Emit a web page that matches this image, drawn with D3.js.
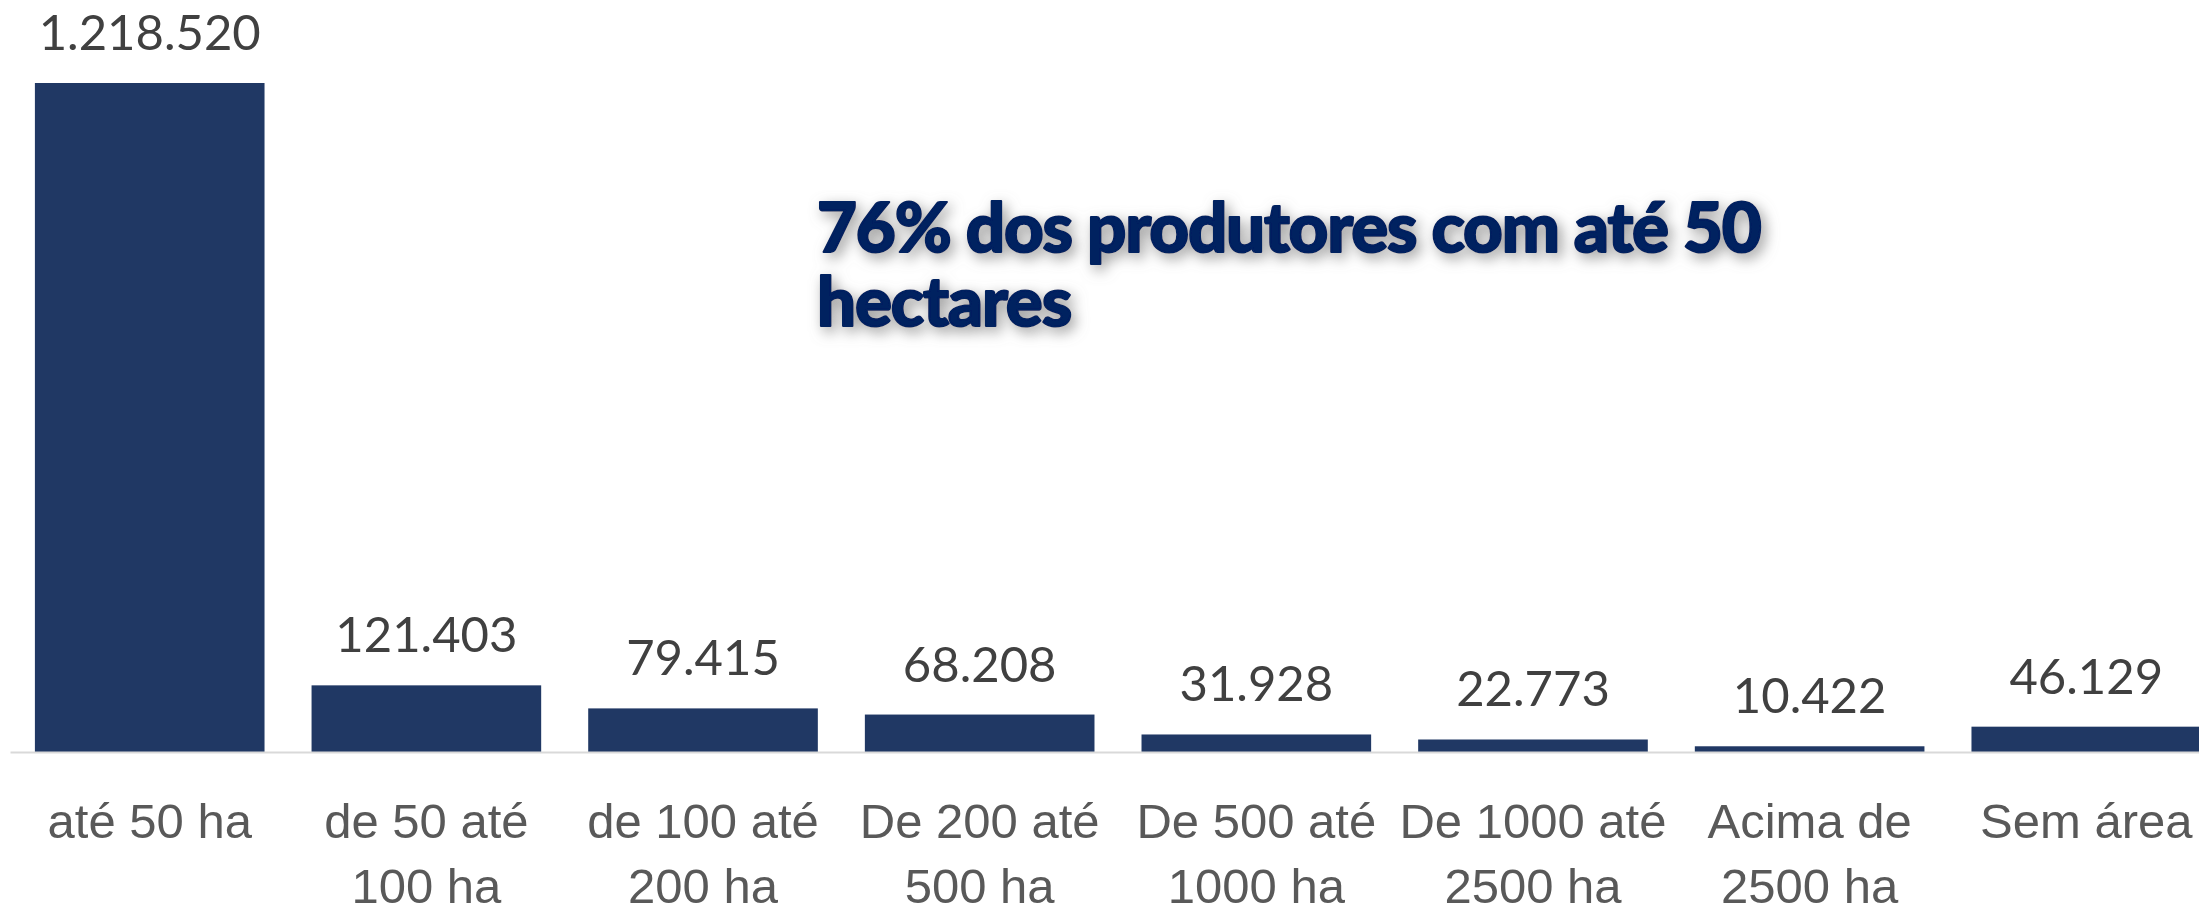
<!DOCTYPE html>
<html>
<head>
<meta charset="utf-8">
<script src="https://cdn.jsdelivr.net/npm/d3@7"></script>
<style>
  body { margin: 0; background: #fff; overflow: hidden; }
  svg { display: block; font-family: Lato, "Open Sans", sans-serif; }
</style>
</head>
<body>
<div id="main"></div>
<script>
// data
const categories = ["até 50 ha", "de 50 até 100 ha", "de 100 até 200 ha", "De 200 até 500 ha",
  "De 500 até 1000 ha", "De 1000 até 2500 ha", "Acima de 2500 ha", "Sem área"];
const categoryLines = [["até 50 ha"], ["de 50 até", "100 ha"], ["de 100 até", "200 ha"], ["De 200 até", "500 ha"],
  ["De 500 até", "1000 ha"], ["De 1000 até", "2500 ha"], ["Acima de", "2500 ha"], ["Sem área"]];
const produtores = [1218520, 121403, 79415, 68208, 31928, 22773, 10422, 46129];
const annotationLines = ["76% dos produtores com até 50", "hectares"];

const width = 2199, height = 907;
const baseY = 752;

const fmt = d3.formatLocale({decimal: ",", thousands: ".", grouping: [3], currency: ["", ""]}).format(",d");

const xScale = d3.scaleBand()
    .domain(categories)
    .range([10, 10 + 8 * 277])
    .paddingInner(0.17)
    .paddingOuter(0.09);
const yScale = d3.scaleLinear()
    .domain([0, d3.max(produtores)])
    .range([baseY, 83]);

const svg = d3.select("#main")
  .append("svg")
  .attr("width", width)
  .attr("height", height);

const defs = svg.append("defs");
const shadow = defs.append("filter")
  .attr("id", "shadow")
  .attr("x", "-10%").attr("y", "-30%")
  .attr("width", "120%").attr("height", "160%");
shadow.append("feDropShadow")
  .attr("dx", 4).attr("dy", 5)
  .attr("stdDeviation", 7)
  .attr("flood-color", "#808080")
  .attr("flood-opacity", 0.8);

// bars
svg.selectAll("rect.bar")
  .data(produtores)
  .enter()
  .append("rect")
  .attr("class", "bar")
  .attr("x", (d, i) => xScale(categories[i]))
  .attr("y", d => yScale(d))
  .attr("width", xScale.bandwidth())
  .attr("height", d => baseY - yScale(d))
  .style("fill", "#203864");

// axis
const xAxis = d3.axisBottom(xScale).tickSize(0).tickSizeOuter(0).tickFormat("");
const gx = svg.append("g")
  .attr("transform", "translate(0," + baseY + ")")
  .call(xAxis);
gx.select(".domain").attr("stroke", "#d9d9d9").attr("stroke-width", 2);

gx.selectAll(".tick text").remove();
gx.selectAll(".tick").each(function(d, i) {
  const t = d3.select(this).append("text")
    .attr("text-anchor", "middle")
    .attr("fill", "#595959")
    .style("font-size", "49px");
  categoryLines[i].forEach((line, j) => {
    t.append("tspan").attr("x", 0).attr("y", 86 + j * 65).text(line);
  });
});

// value labels
svg.selectAll("text.value")
  .data(produtores)
  .enter()
  .append("text")
  .attr("class", "value")
  .attr("x", (d, i) => xScale(categories[i]) + xScale.bandwidth() / 2)
  .attr("y", d => yScale(d) - 33)
  .attr("text-anchor", "middle")
  .attr("fill", "#404040")
  .style("font-size", "49px")
  .text(d => fmt(d));

// annotation
const note = svg.append("text")
  .attr("fill", "#002060")
  .attr("stroke", "#002060")
  .attr("stroke-width", 2)
  .attr("stroke-linejoin", "round")
  .attr("filter", "url(#shadow)")
  .style("font-size", "69px")
  .style("font-weight", 900)
  .style("letter-spacing", "-1.2px");
annotationLines.forEach((line, j) => {
  note.append("tspan").attr("x", 817).attr("y", 252 + j * 74).text(line);
});
</script>
</body>
</html>
